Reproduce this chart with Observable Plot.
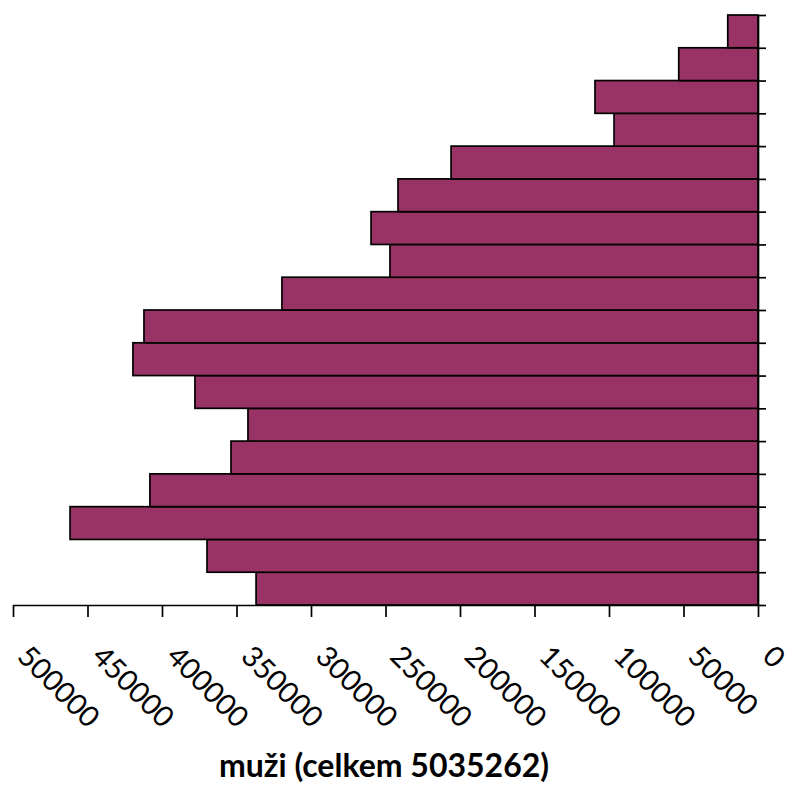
<!DOCTYPE html>
<html>
<head>
<meta charset="utf-8">
<script src="https://cdn.jsdelivr.net/npm/d3@7"></script>
<script src="https://cdn.jsdelivr.net/npm/@observablehq/plot@0.6"></script>
<style>
  html, body { margin: 0; padding: 0; background: #fff; }
  #chart { width: 788px; }
  #chart svg { overflow: visible; }
  #title {
    width: 768px;
    text-align: center;
    font-family: Lato, "Open Sans", sans-serif;
    font-weight: bold;
    font-size: 32px;
    line-height: 36px;
    color: #000;
    margin-top: -1px;
  }
</style>
</head>
<body>
<div id="chart"></div>
<div id="title">muži (celkem 5035262)</div>
<script>
// Male population by five-year age group, youngest group first
const ageGroups = ["0-4", "5-9", "10-14", "15-19", "20-24", "25-29", "30-34", "35-39", "40-44",
                   "45-49", "50-54", "55-59", "60-64", "65-69", "70-74", "75-79", "80-84", "85+"];
const males = [336862, 369800, 461700, 408100, 353700, 342300, 377900, 419500, 412100,
               319500, 247000, 259700, 241600, 206000, 96600, 109400, 53200, 20300];
const xTicks = [0, 50000, 100000, 150000, 200000, 250000, 300000, 350000, 400000, 450000, 500000];

// each group occupies one unit row on a linear y scale, so the row boundaries can carry ticks
const rows = ageGroups.map((group, i) => ({group, value: males[i], lo: i, hi: i + 1}));
const boundaries = d3.range(ageGroups.length + 1);

const chart = Plot.plot({
  width: 788,
  height: 748,
  marginTop: 15,
  marginBottom: 143,
  marginLeft: 13,
  marginRight: 30,
  style: {fontFamily: "Lato, sans-serif", fontSize: "29px", color: "#000"},
  x: {domain: [0, 500000], reverse: true},
  y: {domain: [0, ageGroups.length]},
  marks: [
    Plot.rect(rows, {
      x1: 0, x2: "value", y1: "lo", y2: "hi",
      fill: "#993366", stroke: "#000", strokeWidth: 1.7
    }),
    Plot.ruleX([0], {stroke: "#000", strokeWidth: 1.7}),
    Plot.ruleY([0], {stroke: "#000", strokeWidth: 1.7}),
    Plot.axisY({
      anchor: "right", ticks: boundaries, tickSize: 7, tickFormat: () => "",
      stroke: "#000", strokeWidth: 1.7, label: null
    }),
    // tick marks of the value axis
    Plot.axisX({
      anchor: "bottom", ticks: xTicks, tickSize: 12, tickFormat: () => "",
      stroke: "#000", strokeWidth: 1.7, label: null
    }),
    // slanted value labels
    Plot.axisX({
      anchor: "bottom", ticks: xTicks, tickSize: 0, tickPadding: 46, dx: 9,
      tickRotate: 45, tickFormat: d => String(d), textAnchor: "start",
      label: null
    })
  ]
});
document.getElementById("chart").append(chart);
</script>
</body>
</html>
